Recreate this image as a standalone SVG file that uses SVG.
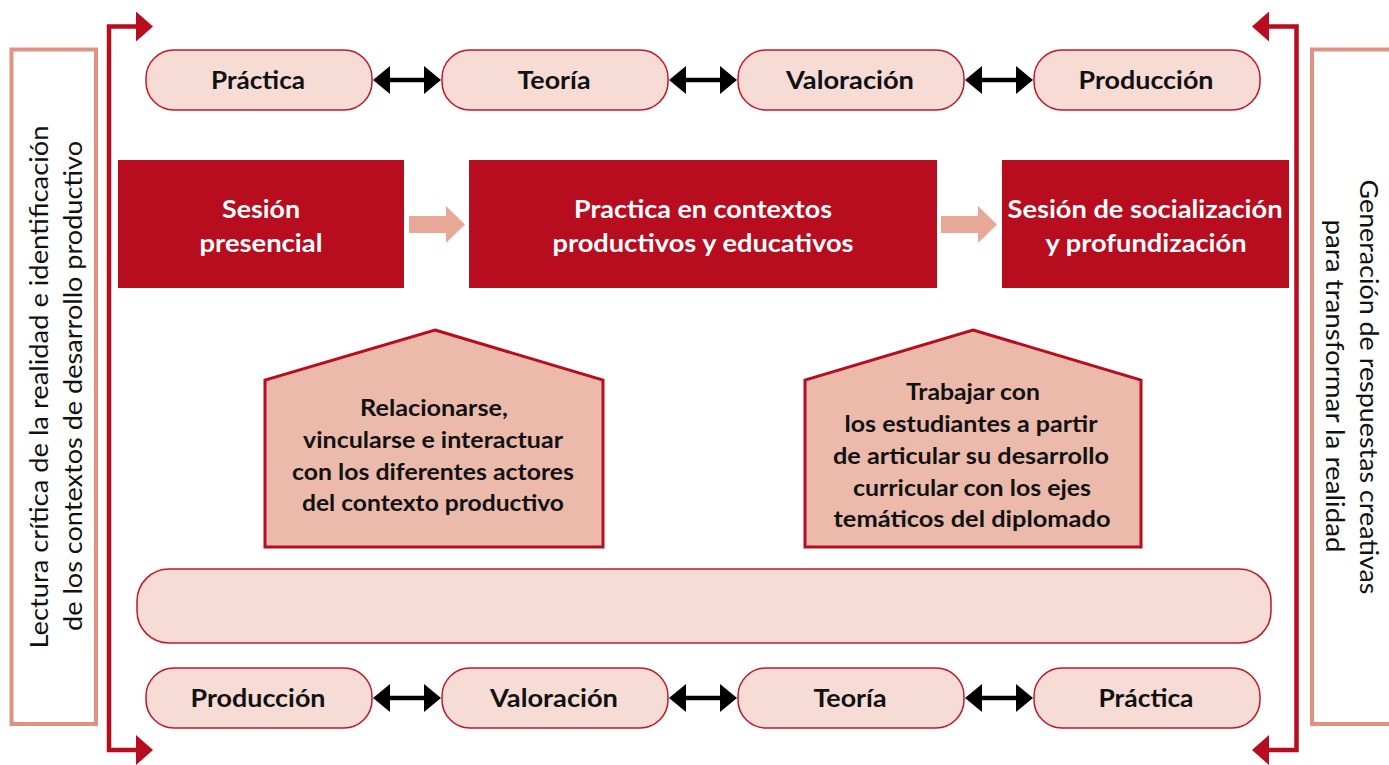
<svg xmlns="http://www.w3.org/2000/svg" width="1389" height="765" viewBox="0 0 1389 765">
<style>
.pill{fill:#F6DCD5;stroke:#C0182B;stroke-width:1.5}
text{font-family:Lato,"Open Sans",sans-serif}
.pt{font-weight:bold;font-size:25px;fill:#111;text-anchor:middle}
.rb{fill:#B80C1F}
.wt{font-weight:bold;font-size:25px;fill:#fff;text-anchor:middle}
.pent{fill:#ECBAAB;stroke:#B80C1F;stroke-width:3}
.ht{font-weight:bold;font-size:23px;fill:#111;text-anchor:middle}
.vt{font-size:25px;fill:#111;text-anchor:middle}
.side{fill:#fff;stroke:#E09282;stroke-width:4}
.blk{stroke:#000;stroke-width:4.5;fill:none}
.brk{stroke:#B80C1F;stroke-width:4.5;fill:none}
.pa{fill:#E8A898}
</style>
<defs>
<marker id="bh" viewBox="0 0 17 28" refX="1" refY="14" markerUnits="userSpaceOnUse" markerWidth="17" markerHeight="28" orient="auto-start-reverse">
<path d="M0,0 L17,14 L0,28 Z" fill="#000"/>
</marker>
<marker id="rh" viewBox="0 0 17 30" refX="1" refY="15" markerUnits="userSpaceOnUse" markerWidth="17" markerHeight="30" orient="auto-start-reverse">
<path d="M0,0 L17,15 L0,30 Z" fill="#B80C1F"/>
</marker>
</defs>

<g id="left-label">
<rect class="side" x="11.5" y="49.5" width="84.5" height="674.5"/>
<text class="vt" transform="translate(48,387) rotate(-90)" textLength="523" lengthAdjust="spacingAndGlyphs">Lectura crítica de la realidad e identificación</text>
<text class="vt" transform="translate(82,386) rotate(-90)" textLength="490" lengthAdjust="spacingAndGlyphs">de los contextos de desarrollo productivo</text>
</g>
<g id="right-label">
<rect class="side" x="1312" y="49.5" width="90" height="674.5"/>
<text class="vt" transform="translate(1360,387) rotate(90)" textLength="415" lengthAdjust="spacingAndGlyphs">Generación de respuestas creativas</text>
<text class="vt" transform="translate(1326,386) rotate(90)" textLength="333" lengthAdjust="spacingAndGlyphs">para transformar la realidad</text>
</g>

<g id="connectors">
<path class="brk" d="M137,26.5 H109 V750 H137" marker-start="url(#rh)" marker-end="url(#rh)"/>
<path class="brk" d="M1268,26.5 H1296.5 V750 H1268" marker-start="url(#rh)" marker-end="url(#rh)"/>
<path class="blk" d="M389,80 H425" marker-start="url(#bh)" marker-end="url(#bh)"/>
<path class="blk" d="M685,80 H721" marker-start="url(#bh)" marker-end="url(#bh)"/>
<path class="blk" d="M981,80 H1017" marker-start="url(#bh)" marker-end="url(#bh)"/>
<path class="blk" d="M389,698 H425" marker-start="url(#bh)" marker-end="url(#bh)"/>
<path class="blk" d="M685,698 H721" marker-start="url(#bh)" marker-end="url(#bh)"/>
<path class="blk" d="M981,698 H1017" marker-start="url(#bh)" marker-end="url(#bh)"/>
<path class="pa" d="M409,216 H446 V206 L465,224.5 L446,243 V233 H409 Z"/>
<path class="pa" d="M941,216 H978 V206 L997,224.5 L978,243 V233 H941 Z"/>
</g>

<g id="top-practica"><rect class="pill" x="146" y="50" width="226" height="60" rx="28"/><text class="pt" x="258" y="89" textLength="94" lengthAdjust="spacingAndGlyphs">Práctica</text></g>
<g id="top-teoria"><rect class="pill" x="442" y="50" width="226" height="60" rx="28"/><text class="pt" x="554" y="89" textLength="73" lengthAdjust="spacingAndGlyphs">Teoría</text></g>
<g id="top-valoracion"><rect class="pill" x="738" y="50" width="226" height="60" rx="28"/><text class="pt" x="850" y="89" textLength="128" lengthAdjust="spacingAndGlyphs">Valoración</text></g>
<g id="top-produccion"><rect class="pill" x="1034" y="50" width="226" height="60" rx="28"/><text class="pt" x="1146" y="89" textLength="135" lengthAdjust="spacingAndGlyphs">Producción</text></g>

<g id="sesion-presencial"><rect class="rb" x="118" y="160" width="286" height="128"/><text class="wt" x="261" y="218" textLength="78" lengthAdjust="spacingAndGlyphs">Sesión</text><text class="wt" x="261" y="252" textLength="123" lengthAdjust="spacingAndGlyphs">presencial</text></g>
<g id="practica-contextos"><rect class="rb" x="469" y="160" width="468" height="128"/><text class="wt" x="703" y="218" textLength="258" lengthAdjust="spacingAndGlyphs">Practica en contextos</text><text class="wt" x="703" y="252" textLength="301" lengthAdjust="spacingAndGlyphs">productivos y educativos</text></g>
<g id="sesion-socializacion"><rect class="rb" x="1002" y="160" width="287" height="128"/><text class="wt" x="1145" y="218" textLength="275" lengthAdjust="spacingAndGlyphs">Sesión de socialización</text><text class="wt" x="1146" y="252" textLength="201" lengthAdjust="spacingAndGlyphs">y profundización</text></g>

<g id="relacionarse">
<path class="pent" d="M435,330 L603,380 V547 H265 V380 Z"/>
<text class="ht" x="434" y="416" textLength="148" lengthAdjust="spacingAndGlyphs">Relacionarse,</text>
<text class="ht" x="433" y="448" textLength="260" lengthAdjust="spacingAndGlyphs">vincularse e interactuar</text>
<text class="ht" x="433" y="480" textLength="282" lengthAdjust="spacingAndGlyphs">con los diferentes actores</text>
<text class="ht" x="433" y="511" textLength="262" lengthAdjust="spacingAndGlyphs">del contexto productivo</text>
</g>
<g id="trabajar">
<path class="pent" d="M973,330 L1141,380 V547 H805 V380 Z"/>
<text class="ht" x="973" y="400" textLength="134" lengthAdjust="spacingAndGlyphs">Trabajar con</text>
<text class="ht" x="971" y="432" textLength="253" lengthAdjust="spacingAndGlyphs">los estudiantes a partir</text>
<text class="ht" x="971" y="464" textLength="276" lengthAdjust="spacingAndGlyphs">de articular su desarrollo</text>
<text class="ht" x="972" y="496" textLength="238" lengthAdjust="spacingAndGlyphs">curricular con los ejes</text>
<text class="ht" x="972" y="527" textLength="277" lengthAdjust="spacingAndGlyphs">temáticos del diplomado</text>
</g>

<g id="franja"><rect class="pill" x="137" y="569" width="1134" height="74" rx="32"/></g>

<g id="bot-produccion"><rect class="pill" x="146" y="668" width="226" height="60" rx="28"/><text class="pt" x="258" y="707" textLength="135" lengthAdjust="spacingAndGlyphs">Producción</text></g>
<g id="bot-valoracion"><rect class="pill" x="442" y="668" width="226" height="60" rx="28"/><text class="pt" x="554" y="707" textLength="128" lengthAdjust="spacingAndGlyphs">Valoración</text></g>
<g id="bot-teoria"><rect class="pill" x="738" y="668" width="226" height="60" rx="28"/><text class="pt" x="850" y="707" textLength="73" lengthAdjust="spacingAndGlyphs">Teoría</text></g>
<g id="bot-practica"><rect class="pill" x="1034" y="668" width="226" height="60" rx="28"/><text class="pt" x="1146" y="707" textLength="95" lengthAdjust="spacingAndGlyphs">Práctica</text></g>
</svg>
